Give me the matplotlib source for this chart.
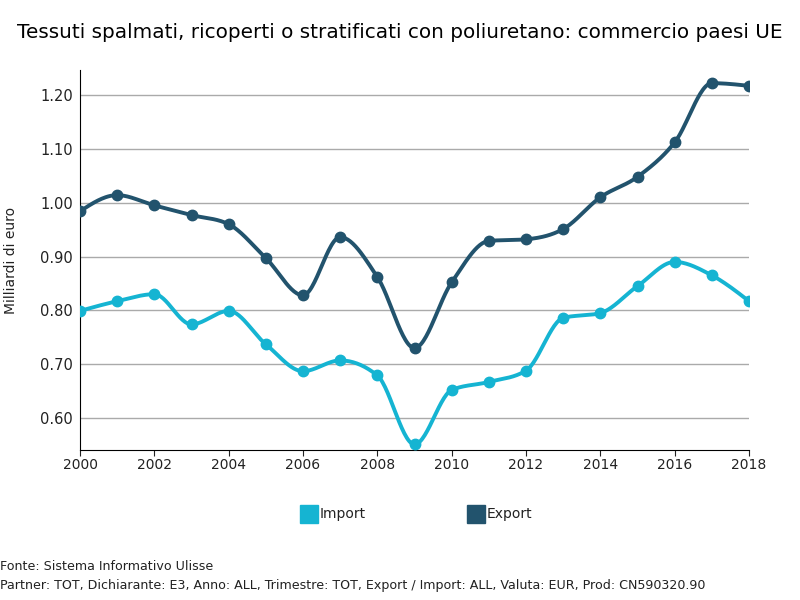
import matplotlib.pyplot as plt
import numpy as np
from matplotlib.patches import Rectangle

# dati
anni = np.arange(2000, 2019)
export_val = [0.984, 1.014, 0.995, 0.977, 0.960, 0.897, 0.828, 0.936, 0.862, 0.730,
              0.852, 0.929, 0.932, 0.951, 1.010, 1.048, 1.112, 1.222, 1.217]
import_val = [0.799, 0.817, 0.830, 0.774, 0.799, 0.737, 0.687, 0.707, 0.679, 0.551,
              0.652, 0.667, 0.688, 0.786, 0.795, 0.845, 0.890, 0.865, 0.817]
yticks = [0.60, 0.70, 0.80, 0.90, 1.00, 1.10, 1.20]
xticks = [2000, 2002, 2004, 2006, 2008, 2010, 2012, 2014, 2016, 2018]

c_import = '#15b4d2'
c_export = '#22536d'


def monotone(x, y, n=30):
    # curva monotona tipo d3.curveMonotoneX
    x = np.asarray(x, float)
    y = np.asarray(y, float)
    h = np.diff(x)
    s = np.diff(y) / h
    m = np.zeros_like(y)
    for i in range(1, len(y) - 1):
        if s[i - 1] * s[i] <= 0:
            m[i] = 0
        else:
            p = (s[i - 1] * h[i] + s[i] * h[i - 1]) / (h[i - 1] + h[i])
            m[i] = np.sign(s[i - 1]) * min(abs(s[i - 1]), abs(s[i]), 0.5 * abs(p)) * 2
    m[0] = (3 * s[0] - m[1]) / 2
    m[-1] = (3 * s[-1] - m[-2]) / 2
    xs, ys = [], []
    for i in range(len(h)):
        t = np.linspace(0, 1, n)
        h00 = 2 * t**3 - 3 * t**2 + 1
        h10 = t**3 - 2 * t**2 + t
        h01 = -2 * t**3 + 3 * t**2
        h11 = t**3 - t**2
        xs.append(x[i] + t * h[i])
        ys.append(h00 * y[i] + h10 * h[i] * m[i] + h01 * y[i + 1] + h11 * h[i] * m[i + 1])
    return np.concatenate(xs), np.concatenate(ys)


fig = plt.figure(figsize=(8, 6), dpi=100)
ax = fig.add_axes([0.1, 0.25, 0.83625, 0.6333])

for vals, col in [(import_val, c_import), (export_val, c_export)]:
    sx, sy = monotone(anni, vals)
    ax.plot(sx, sy, color=col, lw=2.8, solid_capstyle='round', zorder=3)
    ax.plot(anni, vals, 'o', color=col, ms=7.5, zorder=4)

ax.set_xlim(2000, 2018)
ax.set_ylim(0.5406, 1.2464)
ax.set_yticks(yticks)
ax.set_yticklabels([f'{v:.2f}' for v in yticks])
ax.set_xticks(xticks)
ax.grid(axis='y', color='#aaaaaa', lw=1)
ax.set_axisbelow(True)
for sp in ['top', 'right']:
    ax.spines[sp].set_visible(False)
ax.tick_params(axis='y', length=0, labelsize=10.5, colors='#222222', pad=5)
ax.tick_params(axis='x', length=4, labelsize=10, colors='#222222', pad=2)
ax.set_ylabel('Milliardi di euro', fontsize=10, color='#222222', labelpad=16)

fig.text(0.5, 0.945, 'Tessuti spalmati, ricoperti o stratificati con poliuretano: commercio paesi UE',
         ha='center', va='center', fontsize=14.4, color='black')

# legenda
fig.patches.append(Rectangle((300 / 800, 1 - 523 / 600), 18 / 800, 18 / 600,
                             transform=fig.transFigure, color=c_import))
fig.text(320 / 800, 1 - 514 / 600, 'Import', va='center', fontsize=10, color='#222222')
fig.patches.append(Rectangle((467 / 800, 1 - 523 / 600), 18 / 800, 18 / 600,
                             transform=fig.transFigure, color=c_export))
fig.text(487 / 800, 1 - 514 / 600, 'Export', va='center', fontsize=10, color='#222222')

fig.text(0.0, 1 - 566 / 600, 'Fonte: Sistema Informativo Ulisse', va='center', fontsize=9.1, color='#222222')
fig.text(0.0, 1 - 585 / 600, 'Partner: TOT, Dichiarante: E3, Anno: ALL, Trimestre: TOT, Export / Import: ALL, '
         'Valuta: EUR, Prod: CN590320.90', va='center', fontsize=9.1, color='#222222')

fig.savefig('out.png', dpi=100)
